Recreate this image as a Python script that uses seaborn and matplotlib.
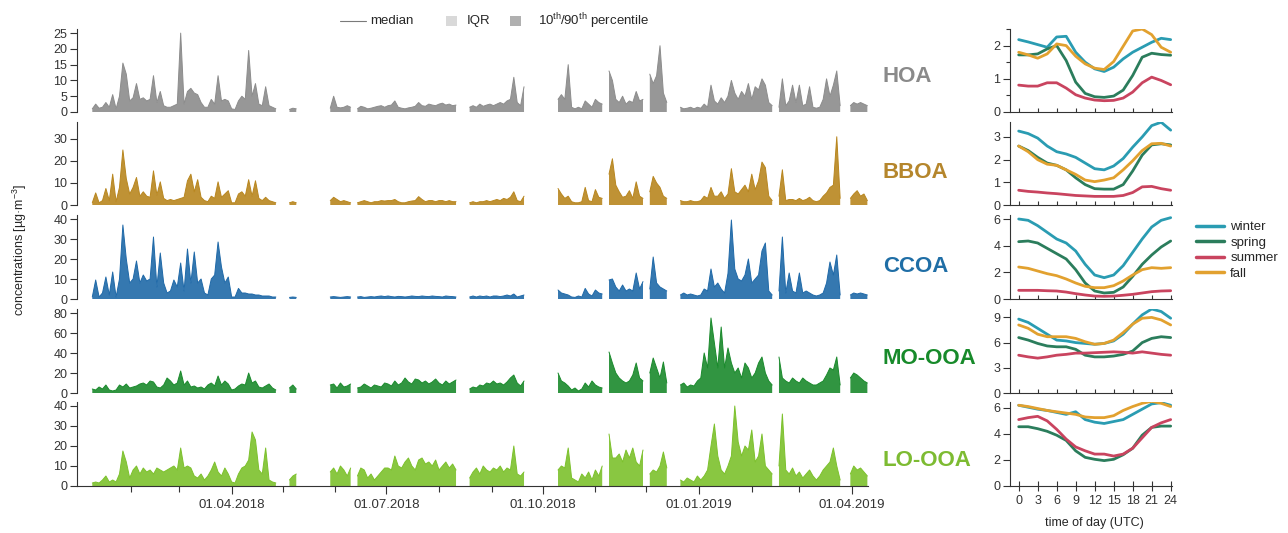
import numpy as np
import pandas as pd
import matplotlib
matplotlib.use("Agg")
import matplotlib.pyplot as plt
import matplotlib.dates as mdates
from matplotlib.lines import Line2D
from matplotlib.patches import Rectangle
import seaborn as sns

N = np.nan

# ---------------- time series (2-day bins, 2018-01-09 ... 2019-04-10) ----------------
start_date = "2018-01-09"
n_bins = 229

HOA = [1.0, 2.5, 1.2, 1.5, 3.0, 1.5, 5.5, 1.0, 5.0, 15.5,
       12, 3.5, 4.5, 9.0, 4.0, 4.5, 3.5, 4.0, 11.5, 3.0,
       6.5, 2.0, 1.5, 1.5, 2.0, 2.5, 25, 2.5, 6.5, 7.5,
       6.0, 5.5, 3.0, 1.5, 1.5, 4.0, 2.5, 11.5, 3.5, 4.0,
       3.5, 1.0, 0.8, 3.5, 5.0, 4.0, 19.5, 5.0, 9.0, 2.5,
       2.0, 8.0, 2.0, 1.5, 1.0,
       N, N, N,
       0.8, 1.2, 1.0,
       N, N, N, N, N, N, N, N, N,
       1.2, 5.0, 1.5, 1.3, 1.5, 2.0, 1.5,
       N,
       1.0, 1.8, 1.5, 1.0, 1.2, 1.5, 1.8, 2.0, 1.5, 2.0,
       2.2, 3.5, 1.5, 1.2, 1.0, 1.3, 1.5, 1.8, 3.0, 2.0,
       1.8, 2.5, 2.2, 2.0, 2.5, 2.8, 2.2, 2.5, 2.0, 2.2,
       N, N, N,
       1.5, 2.0, 1.5, 2.5, 1.8, 2.2, 2.5, 2.0, 2.5, 3.0, 2.5, 3.5, 4.0, 11, 3.0, 2.0, 8.0,
       N, N, N, N, N, N, N, N, N,
       4.0, 5.5, 4.0, 15,
       1.5, 1.0, 1.5, 1.0, 3.5, 2.5, 1.5, 4.0, 3.0, 2.5,
       N,
       13, 10, 4.0, 3.0, 5.0, 2.5, 3.5, 3.0, 6.5, 3.5, 4.0,
       N,
       12, 9.0, 11.5, 21, 6.0, 3.0,
       N,
       10,
       N,
       1.5, 1.0, 1.2, 1.5, 1.0, 1.5, 1.2, 2.5, 1.5, 8.5,
       3.5, 2.5, 4.5, 3.0, 5.0, 10, 6.0, 4.0, 6.5, 5.0,
       9.0, 4.0, 8.0, 7.0, 10.5, 8.5, 3.0, 2.0,
       N,
       1.5, 10.5, 2.0, 3.5, 8.5, 3.0, 8.5, 2.0, 2.5, 8.0, 1.5, 1.2,
       1.5, 4.0, 10.5, 5.0, 8.5, 13, 2.0,
       N, N,
       2.0, 3.0, 2.5, 3.0, 2.5, 2.0]

BBOA = [1.0, 5.5, 1.0, 2.0, 7.5, 2.0, 14, 1.5, 8.0, 25,
        12, 5.0, 8.0, 12.5, 4.0, 6.0, 4.0, 3.5, 15.5, 4.5,
        10.5, 3.0, 2.0, 2.5, 2.0, 2.5, 3.0, 3.5, 11, 14,
        6.0, 11.5, 3.5, 2.0, 1.5, 4.0, 3.0, 10.5, 3.5, 5.0,
        6.5, 1.0, 1.0, 5.0, 6.0, 4.0, 11.5, 4.0, 11, 3.0,
        2.0, 3.5, 2.0, 1.5, 1.0,
        N, N, N,
        1.0, 1.5, 1.0,
        N, N, N, N, N, N, N, N, N,
        2.0, 3.5, 2.5, 1.5, 2.0, 1.5, 1.0,
        N,
        1.0, 1.5, 2.0, 1.5, 1.0, 1.5, 1.5, 2.0, 1.8, 2.0,
        2.0, 2.5, 1.5, 1.0, 1.0, 1.5, 1.8, 2.0, 3.8, 2.5,
        1.5, 2.0, 2.0, 1.5, 2.0, 2.0, 1.5, 2.0, 1.5, 1.5,
        N, N, N,
        1.0, 1.5, 1.0, 1.5, 1.5, 2.0, 1.5, 2.0, 2.5, 2.0, 3.0, 2.5, 3.5, 6.0, 2.0, 1.5, 4.0,
        N, N, N, N, N, N, N, N, N,
        7.5, 5.0, 3.0, 4.0,
        1.5, 1.0, 1.0, 1.5, 8.0, 2.0, 1.5, 7.0, 3.5, 3.0,
        N,
        14, 21, 9.0, 6.0, 3.5, 4.0, 6.5, 3.0, 10.5, 4.0, 3.0,
        N,
        6.0, 13, 10, 8.0, 4.0, 3.0,
        N,
        19,
        N,
        2.0, 1.5, 1.5, 2.0, 1.5, 1.5, 2.0, 4.0, 3.0, 8.0,
        4.0, 4.0, 6.0, 3.0, 5.0, 16.5, 6.0, 5.0, 7.0, 9.0,
        6.0, 14, 7.0, 11, 19.5, 17, 4.0, 2.0,
        N,
        4.0, 16, 2.0, 2.5, 2.5, 2.0, 3.0, 2.0, 2.5, 3.5, 2.0, 1.5,
        2.0, 4.0, 5.5, 8.0, 9.0, 31, 3.0,
        N, N,
        3.0, 5.0, 6.5, 4.0, 5.0, 2.0]

CCOA = [1.0, 9.5, 1.0, 3.0, 11, 2.0, 13.5, 1.0, 10, 37,
        20, 8.0, 10, 19, 8.0, 12, 9.0, 10, 31, 6.0,
        23, 8.0, 3.0, 4.0, 9.5, 6.0, 18, 4.0, 25, 8.0,
        23.5, 8.0, 10, 3.0, 2.0, 10, 12, 28.5, 16, 8.0,
        11, 1.0, 1.0, 5.3, 3.0, 3.0, 2.5, 2.5, 2.0, 2.0,
        1.5, 1.5, 1.5, 1.0, 1.0,
        N, N, N,
        0.8, 1.0, 0.8,
        N, N, N, N, N, N, N, N, N,
        1.0, 1.2, 1.0, 0.8, 1.0, 1.2, 1.0,
        N,
        1.0, 1.2, 0.8, 1.0, 1.2, 1.0, 1.3, 1.5, 1.2, 1.5,
        1.2, 1.0, 1.3, 1.2, 1.0, 1.2, 1.5, 1.3, 1.2, 1.5,
        1.3, 1.2, 1.5, 1.3, 1.2, 1.0, 1.5, 1.3, 1.2, 1.0,
        N, N, N,
        1.0, 1.5, 1.0, 1.5, 1.2, 1.5, 1.0, 1.5, 1.5, 1.2, 1.5, 2.0, 1.5, 2.5, 1.0, 1.5, 2.0,
        N, N, N, N, N, N, N, N, N,
        4.5, 3.0, 2.5, 2.0,
        1.0, 0.8, 1.5, 1.0, 5.3, 2.5, 1.5, 4.5, 3.0, 2.5,
        N,
        9.5, 10, 6.0, 4.0, 7.0, 4.0, 5.0, 4.0, 13, 5.0, 8.7,
        N,
        5.0, 21, 8.0, 6.0, 5.0, 4.0,
        N,
        27,
        N,
        2.0, 3.0, 2.0, 2.5, 2.0, 1.5, 2.0, 5.0, 4.0, 15,
        6.0, 8.0, 5.0, 3.0, 12.8, 39.5, 15, 10, 9.0, 12,
        20, 8.0, 10, 12, 24, 28, 4.0, 2.0,
        N,
        4.0, 31, 3.0, 13, 4.0, 3.0, 13, 3.0, 4.0, 3.0, 2.0, 1.5,
        2.0, 3.0, 8.0, 18.5, 12, 22, 2.0,
        N, N,
        2.0, 3.0, 2.5, 3.0, 2.5, 2.0]

MOOOA = [4, 3, 6, 4, 8, 3, 2, 3, 8, 6,
         9, 5, 6, 7, 9, 10, 8, 12, 11, 6,
         5, 8, 15, 12, 8, 10, 22, 8, 12, 6,
         7, 5, 6, 4, 8, 10, 7, 17, 8, 12,
         9, 3, 4, 7, 9, 8, 20, 10, 12, 6,
         5, 7, 9, 5, 3,
         N, N, N,
         5, 8, 4,
         N, N, N, N, N, N, N, N, N,
         8, 9, 5, 10, 6, 7, 9,
         N,
         5, 6, 9, 7, 5, 8, 7, 6, 10, 9,
         7, 12, 8, 10, 15, 11, 9, 14, 13, 10,
         12, 9, 11, 14, 10, 8, 12, 9, 11, 13,
         N, N, N,
         4, 6, 5, 8, 7, 10, 9, 12, 9, 10, 8, 11, 15, 18, 10, 7, 12,
         N, N, N, N, N, N, N, N, N,
         20, 12, 10, 7,
         3, 5, 2, 4, 10, 6, 12, 8, 6, 5,
         N,
         41, 30, 20, 15, 12, 10, 12, 18, 30, 15, 12,
         N,
         20, 35, 25, 15, 31, 10,
         N,
         43,
         N,
         8, 10, 6, 8, 7, 12, 15, 40, 25, 75,
         50, 25, 66, 25, 45, 30, 20, 25, 15, 30,
         25, 15, 20, 30, 36, 20, 12, 8,
         N,
         36, 15, 12, 10, 15, 12, 10, 15, 12, 10, 8, 8,
         10, 12, 18, 25, 23, 36, 8,
         N, N,
         15, 20, 18, 15, 12, 10]

LOOOA = [1.5, 2, 1.5, 3, 5, 2, 3, 2, 6, 17.5,
         12, 4, 8, 10, 6, 9, 7, 8, 6, 9,
         8, 7, 8, 9, 10, 8, 19, 9, 10, 9,
         5, 4, 6, 3, 5, 8, 12, 7, 5, 9,
         6, 2, 1.5, 6, 9, 10, 13, 27, 23, 8,
         6, 19, 3, 2, 1.5,
         N, N, N,
         3, 5, 6,
         N, N, N, N, N, N, N, N, N,
         7, 9, 6, 10, 8, 5, 9,
         N,
         5, 9, 8, 4, 6, 3, 5, 7, 9, 9,
         8, 15, 10, 9, 12, 14, 10, 8, 13, 14,
         11, 12, 10, 13, 8, 10, 12, 9, 11, 8,
         N, N, N,
         4, 7, 9, 6, 10, 8, 7, 9, 8, 10, 7, 9, 8, 20, 6, 5, 7,
         N, N, N, N, N, N, N, N, N,
         8, 10, 9, 19,
         4, 3, 2, 6, 4, 7, 3, 8, 5, 10,
         N,
         26, 14, 14, 16, 12, 18, 14, 19, 12, 10, 18,
         N,
         6, 8, 7, 10, 17, 9,
         N,
         27,
         N,
         3, 2, 4, 3, 2, 5, 3, 5, 8, 20,
         31, 15, 8, 6, 10, 15, 40, 22, 15, 20,
         18, 28, 12, 15, 26, 10, 8, 6,
         N,
         10, 36, 8, 6, 9, 5, 7, 4, 6, 8, 5, 3,
         5, 8, 10, 12, 19, 10, 3,
         N, N,
         6, 10, 8, 9, 7, 5]

# ---------------- diurnal cycles (hours 0..24, step 1.5 h) ----------------
hours = [0, 1.5, 3, 4.5, 6, 7.5, 9, 10.5, 12, 13.5, 15, 16.5, 18, 19.5, 21, 22.5, 24]

HOA_winter = [2.18, 2.11, 2.03, 1.95, 2.26, 2.28, 1.8, 1.5, 1.3, 1.22, 1.35, 1.6, 1.8, 1.95, 2.1, 2.22, 2.18]
HOA_spring = [1.72, 1.72, 1.75, 1.9, 2.0, 1.55, 0.9, 0.56, 0.46, 0.44, 0.48, 0.66, 1.1, 1.65, 1.77, 1.73, 1.71]
HOA_summer = [0.81, 0.78, 0.78, 0.88, 0.88, 0.72, 0.52, 0.42, 0.36, 0.34, 0.35, 0.42, 0.6, 0.88, 1.05, 0.95, 0.82]
HOA_fall = [1.8, 1.72, 1.62, 1.75, 2.05, 2.0, 1.68, 1.45, 1.32, 1.28, 1.52, 1.98, 2.44, 2.5, 2.33, 1.95, 1.8]

BBOA_winter = [3.26, 3.15, 2.95, 2.6, 2.35, 2.25, 2.1, 1.85, 1.6, 1.55, 1.72, 2.05, 2.55, 3.0, 3.5, 3.65, 3.3]
BBOA_spring = [2.6, 2.4, 2.1, 1.85, 1.75, 1.55, 1.2, 0.9, 0.72, 0.7, 0.7, 0.9, 1.5, 2.2, 2.65, 2.7, 2.65]
BBOA_summer = [0.65, 0.6, 0.57, 0.53, 0.5, 0.46, 0.42, 0.4, 0.38, 0.38, 0.38, 0.42, 0.55, 0.8, 0.82, 0.72, 0.65]
BBOA_fall = [2.6, 2.35, 2.0, 1.8, 1.75, 1.55, 1.35, 1.1, 1.03, 1.1, 1.2, 1.55, 1.95, 2.4, 2.7, 2.72, 2.6]

CCOA_winter = [6.0, 5.9, 5.5, 5.0, 4.5, 4.2, 3.6, 2.6, 1.8, 1.6, 1.8, 2.5, 3.5, 4.5, 5.4, 5.9, 6.1]
CCOA_spring = [4.3, 4.35, 4.2, 3.8, 3.4, 3.0, 2.2, 1.2, 0.6, 0.45, 0.5, 0.9, 1.7, 2.6, 3.3, 3.9, 4.35]
CCOA_summer = [0.65, 0.65, 0.65, 0.62, 0.6, 0.52, 0.4, 0.3, 0.22, 0.2, 0.22, 0.28, 0.35, 0.45, 0.55, 0.6, 0.62]
CCOA_fall = [2.4, 2.3, 2.1, 1.9, 1.75, 1.5, 1.2, 0.95, 0.85, 0.85, 1.0, 1.35, 1.8, 2.2, 2.35, 2.3, 2.35]

MO_winter = [8.8, 8.4, 7.7, 7.0, 6.3, 6.2, 6.0, 5.9, 5.8, 5.9, 6.2, 7.0, 8.2, 9.3, 10.0, 9.7, 8.9]
MO_spring = [6.6, 6.3, 5.9, 5.6, 5.5, 5.5, 5.2, 4.5, 4.3, 4.3, 4.4, 4.6, 5.0, 6.0, 6.5, 6.7, 6.6]
MO_summer = [4.5, 4.3, 4.15, 4.3, 4.5, 4.6, 4.75, 4.75, 4.8, 4.85, 4.9, 4.85, 4.75, 4.9, 4.75, 4.6, 4.5]
MO_fall = [8.1, 7.7, 7.0, 6.7, 6.7, 6.7, 6.5, 6.1, 5.8, 5.9, 6.3, 7.2, 8.2, 8.9, 9.0, 8.7, 8.1]

LO_winter = [6.2, 6.05, 5.9, 5.8, 5.65, 5.5, 5.7, 5.1, 4.9, 4.8, 4.95, 5.1, 5.5, 5.9, 6.3, 6.4, 6.2]
LO_spring = [4.55, 4.55, 4.4, 4.2, 3.9, 3.5, 2.7, 2.2, 2.05, 1.95, 2.05, 2.4, 2.9, 3.9, 4.5, 4.6, 4.6]
LO_summer = [5.1, 5.25, 5.35, 5.0, 4.35, 3.6, 3.0, 2.7, 2.45, 2.45, 2.3, 2.45, 2.9, 3.7, 4.5, 4.85, 5.1]
LO_fall = [6.2, 6.1, 5.95, 5.8, 5.7, 5.6, 5.5, 5.3, 5.25, 5.25, 5.4, 5.8, 6.1, 6.35, 6.5, 6.35, 6.1]

species = ["HOA", "BBOA", "CCOA", "MO-OOA", "LO-OOA"]
seasons = ["winter", "spring", "summer", "fall"]
series = {"HOA": HOA, "BBOA": BBOA, "CCOA": CCOA, "MO-OOA": MOOOA, "LO-OOA": LOOOA}
diurnal = {
    "HOA": [HOA_winter, HOA_spring, HOA_summer, HOA_fall],
    "BBOA": [BBOA_winter, BBOA_spring, BBOA_summer, BBOA_fall],
    "CCOA": [CCOA_winter, CCOA_spring, CCOA_summer, CCOA_fall],
    "MO-OOA": [MO_winter, MO_spring, MO_summer, MO_fall],
    "LO-OOA": [LO_winter, LO_spring, LO_summer, LO_fall],
}
legend_labels = ["median", "IQR", r"10$^{\mathregular{th}}$/90$^{\mathregular{th}}$ percentile"]

# ---------------- styling ----------------
sp_colors = {"HOA": "#8c8c8c", "BBOA": "#b8861f", "CCOA": "#1f69a8",
             "MO-OOA": "#1a8a2c", "LO-OOA": "#7cc12c"}
label_colors = {"HOA": "#8a8a8a", "BBOA": "#b5862c", "CCOA": "#1f6ea6",
                "MO-OOA": "#178a2a", "LO-OOA": "#7dbb32"}
season_colors = {"winter": "#2a9cb2", "spring": "#2b7d5c", "summer": "#c9445f", "fall": "#e2a12f"}

ts_ylim = {"HOA": 26.3, "BBOA": 37.7, "CCOA": 42, "MO-OOA": 84, "LO-OOA": 42}
ts_yticks = {"HOA": [0, 5, 10, 15, 20, 25], "BBOA": [0, 10, 20, 30], "CCOA": [0, 10, 20, 30, 40],
             "MO-OOA": [0, 20, 40, 60, 80], "LO-OOA": [0, 10, 20, 30, 40]}
di_ylim = {"HOA": 2.5, "BBOA": 3.66, "CCOA": 6.3, "MO-OOA": 10.0, "LO-OOA": 6.45}
di_yticks = {"HOA": [0, 1, 2], "BBOA": [0, 1, 2, 3], "CCOA": [0, 2, 4, 6],
             "MO-OOA": [0, 3, 6, 9], "LO-OOA": [0, 2, 4, 6]}

# panel pixel rows (top, bottom) and species-label centre rows
rows = {"HOA": (29, 112), "BBOA": (122, 205), "CCOA": (215, 299),
        "MO-OOA": (309, 393), "LO-OOA": (402, 486)}
label_y = {"HOA": 77, "BBOA": 172, "CCOA": 267, "MO-OOA": 359, "LO-OOA": 460}

W, H = 1288, 533
sns.set_theme(style="ticks")
plt.rcParams["font.family"] = ["Liberation Sans", "DejaVu Sans"]
plt.rcParams["mathtext.fontset"] = "custom"
plt.rcParams["mathtext.rm"] = "Liberation Sans"
plt.rcParams["axes.edgecolor"] = "#333333"
plt.rcParams["axes.linewidth"] = 0.8
plt.rcParams["xtick.color"] = "#333333"
plt.rcParams["ytick.color"] = "#333333"

fig = plt.figure(figsize=(W / 100, H / 100), dpi=100)


def fx(px):
    return px / W


def fy(py):
    return 1 - py / H


dates = pd.date_range(start_date, periods=n_bins, freq="2D")
x0, x1 = pd.Timestamp("2017-12-31"), pd.Timestamp("2019-04-10 09:00")
major = pd.to_datetime(["2018-04-01", "2018-07-01", "2018-10-01", "2019-01-01", "2019-04-01"])
minor = pd.date_range("2018-02-01", "2019-04-01", freq="MS")

for k, sp in enumerate(species):
    top, bot = rows[sp]
    ax = fig.add_axes([fx(77), fy(bot), 791 / W, (bot - top) / H])
    vals = np.array(series[sp], dtype=float)
    df = pd.DataFrame({"date": dates, "val": vals})
    df["seg"] = np.isnan(vals).cumsum()
    c = sp_colors[sp]
    ax.fill_between(df["date"], 0, df["val"], color=c, lw=0, alpha=0.9)
    sns.lineplot(data=df.dropna(), x="date", y="val", units="seg", estimator=None,
                 color=c, lw=0.7, ax=ax)
    ax.set_xlim(x0, x1)
    ax.set_ylim(0, ts_ylim[sp])
    ax.set_yticks(ts_yticks[sp])
    ax.set_xlabel("")
    ax.set_ylabel("")
    ax.tick_params(axis="y", length=5, width=0.8, labelsize=9, pad=2)
    for s in ["top", "right"]:
        ax.spines[s].set_visible(False)
    if sp != "LO-OOA":
        ax.spines["bottom"].set_visible(False)
        ax.tick_params(axis="x", bottom=False, labelbottom=False, which="both")
    else:
        ax.set_xticks(major)
        ax.set_xticks(minor, minor=True)
        ax.xaxis.set_major_formatter(mdates.DateFormatter("%d.%m.%Y"))
        ax.tick_params(axis="x", which="major", length=6, width=0.8, labelsize=9.5, pad=3)
        ax.tick_params(axis="x", which="minor", length=4, width=0.8)
    fig.text(fx(883), fy(label_y[sp]), sp, fontsize=16, fontweight="bold",
             color=label_colors[sp], ha="left", va="center")

    # diurnal panel
    axd = fig.add_axes([fx(1010), fy(bot), 161.7 / W, (bot - top) / H])
    ddf = pd.DataFrame({
        "hour": np.tile(hours, 4),
        "conc": np.concatenate(diurnal[sp]),
        "season": np.repeat(seasons, len(hours)),
    })
    sns.lineplot(data=ddf, x="hour", y="conc", hue="season", hue_order=seasons,
                 palette=season_colors, lw=2.0, legend=False, ax=axd)
    axd.set_xlim(-1.37, 24.16)
    axd.set_ylim(0, di_ylim[sp])
    axd.set_yticks(di_yticks[sp])
    if sp == "HOA":
        axd.set_yticks([0.5, 1.5, 2.5], minor=True)
    axd.set_xticks(range(0, 25, 3))
    axd.set_xlabel("")
    axd.set_ylabel("")
    for s in ["top", "right"]:
        axd.spines[s].set_visible(False)
    axd.tick_params(axis="y", which="major", length=5, width=0.8, labelsize=9, pad=2)
    axd.tick_params(axis="y", which="minor", length=3, width=0.8)
    if sp != "LO-OOA":
        axd.tick_params(axis="x", direction="in", length=3, width=0.8, labelbottom=False)
    else:
        axd.tick_params(axis="x", direction="inout", length=7, width=0.8, labelsize=9, pad=3)

fig.text(fx(1094), fy(523), "time of day (UTC)", fontsize=9, ha="center", va="center")
fig.text(fx(20), fy(250), r"concentrations [µg·m$^{\mathregular{-3}}$]", fontsize=9,
         rotation=90, ha="center", va="center")

# top legend (drawn as key marks + labels)
fig.add_artist(Line2D([fx(340), fx(366)], [fy(21), fy(21)], color="#7a7a7a", lw=0.8,
                      transform=fig.transFigure))
fig.text(fx(370), fy(21), legend_labels[0], fontsize=9.5, ha="left", va="center")
fig.add_artist(Rectangle((fx(446), fy(26)), 11 / W, 10 / H, facecolor="#d9d9d9",
                         edgecolor="none", transform=fig.transFigure))
fig.text(fx(467), fy(21), legend_labels[1], fontsize=9.5, ha="left", va="center")
fig.add_artist(Rectangle((fx(510), fy(26)), 11 / W, 10 / H, facecolor="#b0b0b0",
                         edgecolor="none", transform=fig.transFigure))
fig.text(fx(538), fy(21), legend_labels[2], fontsize=9.5, ha="left", va="center")

# season legend
s_handles = [Line2D([], [], color=season_colors[s], lw=2.5) for s in seasons]
fig.legend(s_handles, seasons, loc="upper left", bbox_to_anchor=(fx(1196), fy(221)),
           frameon=False, fontsize=9.5, handlelength=2.1, labelspacing=0.25,
           handletextpad=0.5, borderaxespad=0, borderpad=0)

fig.savefig("out.png", dpi=100)
